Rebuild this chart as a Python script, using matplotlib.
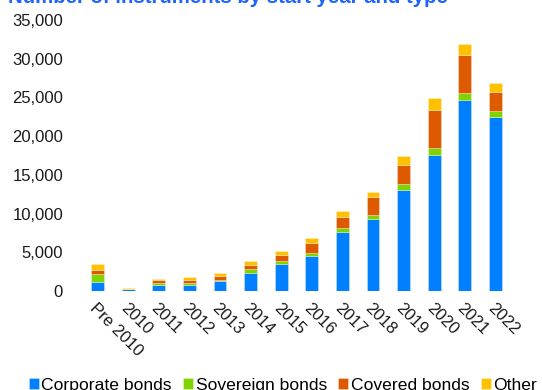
import matplotlib
matplotlib.use("Agg")
import matplotlib.pyplot as plt
import numpy as np

plt.rcParams['font.family'] = ['Liberation Sans', 'DejaVu Sans']

years = ["Pre 2010", "2010", "2011", "2012", "2013", "2014", "2015",
         "2016", "2017", "2018", "2019", "2020", "2021", "2022"]
corporate = [1200, 200, 780, 810, 1250, 2360, 3530,
             4560, 7620, 9300, 13080, 17600, 24700, 22470]
sovereign = [960, 30, 220, 220, 210, 440, 390,
             350, 480, 520, 740, 870, 870, 780]
covered = [520, 90, 390, 430, 440, 590, 780,
           1290, 1500, 2360, 2490, 4950, 4900, 2450]
other = [770, 80, 170, 310, 430, 440, 480,
         600, 740, 570, 1160, 1510, 1460, 1160]

series = [("Corporate bonds", corporate, "#0080FF"),
          ("Sovereign bonds", sovereign, "#7ED300"),
          ("Covered bonds", covered, "#DD5A00"),
          ("Other", other, "#FFC000")]

fig = plt.figure(figsize=(5.42, 3.90), dpi=100)
ax = fig.add_axes([70 / 542, 99 / 390, 453 / 542, 271 / 390])

x = np.arange(len(years))
bottom = np.zeros(len(years))
for name, vals, col in series:
    ax.bar(x, vals, 0.42, bottom=bottom, color=col, label=name,
           edgecolor=(1, 1, 1, 0.35), linewidth=0.6)
    bottom += np.array(vals)

ax.set_xlim(-0.9, 13.9)
ax.set_ylim(0, 35000)
ax.set_yticks(range(0, 35001, 5000))
ax.set_yticklabels([f"{v:,}" for v in range(0, 35001, 5000)])
ax.set_xticks(x)
ax.set_xticklabels(years, rotation=-45, ha="left", va="top",
                   rotation_mode="anchor")
ax.tick_params(axis="both", length=0, labelsize=12, colors="#1a1a1a")
ax.tick_params(axis="y", pad=5)
ax.tick_params(axis="x", pad=7)
for s in ax.spines.values():
    s.set_visible(False)

# title sits partly above the top edge, as in the source image
fig.text(8 / 542, 1 - 3 / 390, "Number of instruments by start year and type",
         color="#1F64FF", fontsize=14.7, fontweight="bold", va="baseline", ha="left")

fig.legend(loc="center", bbox_to_anchor=(0.522, 0.012), ncol=4, frameon=False,
           fontsize=12.6, handlelength=0.57, handleheight=0.57, handletextpad=0.15,
           columnspacing=0.65, borderaxespad=0, borderpad=0)

fig.savefig("out.png", dpi=100)
